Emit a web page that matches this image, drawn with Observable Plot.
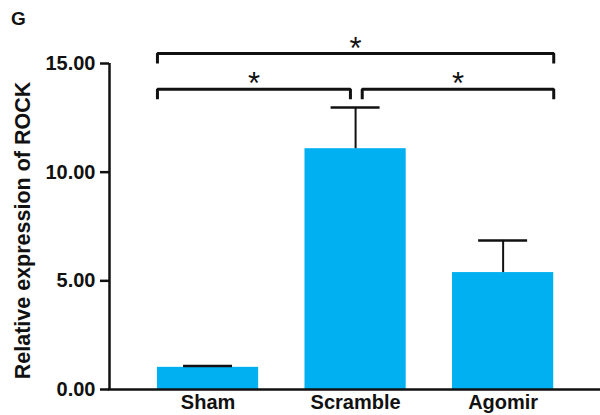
<!DOCTYPE html>
<html>
<head>
<meta charset="utf-8">
<script src="https://cdn.jsdelivr.net/npm/d3@7"></script>
<script src="https://cdn.jsdelivr.net/npm/@observablehq/plot@0.6"></script>
<style>
  html, body { margin: 0; padding: 0; background: #fff; }
  #wrap { position: relative; width: 600px; height: 415px; }
  #panel { position: absolute; left: 11px; top: 8px; font: bold 19px "Liberation Sans", Arial, sans-serif; color: #111; z-index: 2; }
  svg { display: block; }
</style>
</head>
<body>
<div id="wrap"><div id="panel">G</div></div>
<script>
// Data
const categories = ["Sham", "Scramble", "Agomir"];
const means = [1.02, 11.08, 5.38];
const errors = [0.06, 1.90, 1.48];
const yTicks = [0, 5, 10, 15];
const yLabel = "Relative expression of ROCK";
// significance comparisons: from, to, bracket height, label
const compFrom = ["Sham", "Sham", "Scramble"];
const compTo = ["Agomir", "Scramble", "Agomir"];
const compY = [15.46, 13.82, 13.82];
const compLabel = ["*", "*", "*"];

const barHalf = 0.343;
const capHalf = 0.166;
const legLen = 0.46;
const innerGapL = 0.035, innerGapR = 0.045;

const bars = categories.map((c, i) => ({c, i, mean: means[i], err: errors[i]}));

const comps = compFrom.map((f, k) => {
  const a = categories.indexOf(f), b = categories.indexOf(compTo[k]);
  const x1 = a === 1 ? a + innerGapR : a - barHalf;
  const x2 = b === 1 ? b - innerGapL : b + barHalf;
  return {k, x1, x2, y: compY[k], label: compLabel[k]};
});
const bracketPts = comps.flatMap(d => [
  {k: d.k, x: d.x1, y: d.y - legLen},
  {k: d.k, x: d.x1, y: d.y},
  {k: d.k, x: d.x2, y: d.y},
  {k: d.k, x: d.x2, y: d.y - legLen}
]);

const font = '"Liberation Sans", Arial, sans-serif';

const chart = Plot.plot({
  width: 600,
  height: 415,
  marginLeft: 109,
  marginRight: 0,
  marginTop: 63,
  marginBottom: 26,
  style: {fontFamily: font, color: "#111", background: "#fff"},
  x: {domain: [-0.668, 2.66], axis: null},
  y: {domain: [0, 15], axis: null},
  marks: [
    Plot.rectY(bars, {x1: d => d.i - barHalf, x2: d => d.i + barHalf, y1: 0, y2: "mean", fill: "#00b0f0"}),
    Plot.ruleX(bars, {x: "i", y1: "mean", y2: d => d.mean + d.err, stroke: "#111", strokeWidth: 2}),
    Plot.ruleY(bars, {x1: d => d.i - capHalf, x2: d => d.i + capHalf, y: d => d.mean + d.err, stroke: "#111", strokeWidth: 2.5}),
    // axes
    Plot.ruleX([0], {x: -0.668, y1: 0, y2: 15, stroke: "#111", strokeWidth: 2.5}),
    Plot.ruleY([0], {x1: -0.675, x2: 2.66, stroke: "#111", strokeWidth: 2.5}),
    Plot.axisY({ticks: yTicks, tickFormat: d3.format(".2f"), tickSize: 9, tickPadding: 5, strokeWidth: 2.5, fontSize: 20, fontWeight: "bold", label: null}),
    Plot.text(bars, {x: "i", y: 0, text: "c", dy: 13, fontSize: 20, fontWeight: "bold", lineAnchor: "middle"}),
    Plot.text([yLabel], {frameAnchor: "left", textAnchor: "middle", lineAnchor: "middle", dx: -86, dy: 4, rotate: -90, text: d => d, fontSize: 21.5, fontWeight: "bold"}),
    // significance brackets
    Plot.line(bracketPts, {x: "x", y: "y", z: "k", stroke: "#111", strokeWidth: 3, strokeLinejoin: "miter", strokeLinecap: "butt"}),
    Plot.text(comps, {x: d => (d.x1 + d.x2) / 2, y: "y", text: "label", fontSize: 31, fontFamily: font, lineAnchor: "bottom", dy: 5})
  ]
});
document.getElementById("wrap").prepend(chart);
</script>
</body>
</html>
